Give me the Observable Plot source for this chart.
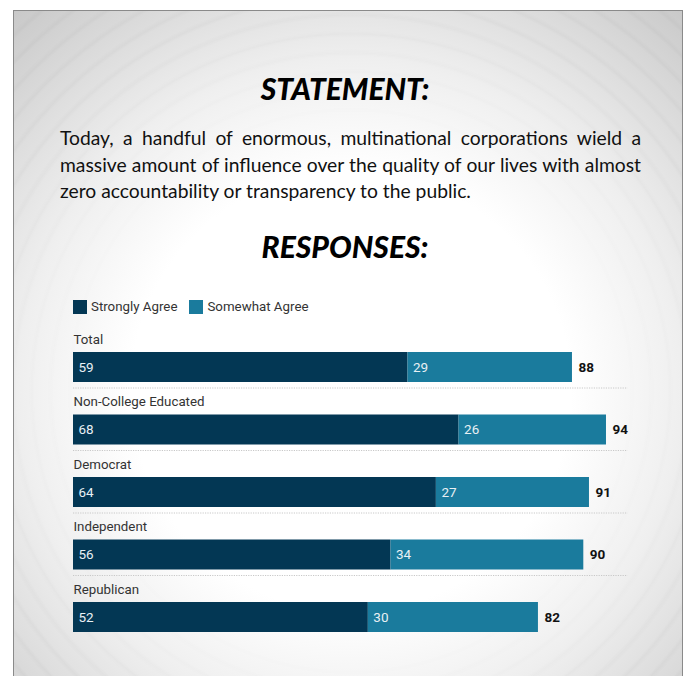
<!DOCTYPE html>
<html>
<head>
<meta charset="utf-8">
<script src="https://cdn.jsdelivr.net/npm/d3@7"></script>
<script src="https://cdn.jsdelivr.net/npm/@observablehq/plot@0.6"></script>
<style>
  html, body { margin: 0; padding: 0; background: #fff; }
  body { width: 690px; height: 676px; position: relative; overflow: hidden; }
  #frame {
    position: absolute; left: 13px; top: 10px; width: 670px; height: 680px;
    border: 1px solid #8a8a8a; box-sizing: border-box; overflow: hidden;
    background: radial-gradient(circle at 337px 380px, #ffffff 0px, #ffffff 220px, #efefef 330px, #dcdcdc 420px, #c6c6c6 520px);
  }
  #frame::before {
    content: ""; position: absolute; inset: 0;
    background: repeating-radial-gradient(circle at 337px 380px, rgba(0,0,0,0) 0px, rgba(0,0,0,0) 12px, rgba(0,0,0,0.02) 15px, rgba(0,0,0,0) 19px);
    -webkit-mask-image: radial-gradient(circle at 337px 380px, transparent 250px, black 400px);
    mask-image: radial-gradient(circle at 337px 380px, transparent 250px, black 400px);
  }
  .title {
    position: absolute; left: 0; width: 690px; text-align: center;
    font-family: Lato, sans-serif; font-weight: 900; font-style: italic;
    font-size: 30px; color: #000;
  }
  #statement {
    position: absolute; left: 60px; top: 125px; width: 581px;
    font-family: Lato, sans-serif; font-size: 19.3px; line-height: 26.5px; color: #111;
  }
  #statement div { text-align: justify; text-align-last: justify; white-space: nowrap; }
  #statement div.last { text-align-last: left; }
  #legend {
    position: absolute; left: 73px; top: 299px; display: flex; align-items: center;
    font-family: Roboto, sans-serif; font-size: 13.3px; color: #333;
  }
  #legend .sw { width: 14px; height: 14px; margin-right: 4px; }
  #legend .item { display: flex; align-items: center; margin-right: 12px; }
  #chart { position: absolute; left: 73px; top: 322px; }
</style>
</head>
<body>
<div id="frame"></div>
<div class="title" style="top:70px;">STATEMENT:</div>
<div id="statement">
  <div>Today, a handful of enormous, multinational corporations wield a</div>
  <div>massive amount of influence over the quality of our lives with almost</div>
  <div class="last">zero accountability or transparency to the public.</div>
</div>
<div class="title" style="top:228px;">RESPONSES:</div>
<div id="legend"></div>
<div id="chart"></div>
<script>
const categories = ["Total", "Non-College Educated", "Democrat", "Independent", "Republican"];
const seriesNames = ["Strongly Agree", "Somewhat Agree"];
const stronglyAgree = [59, 68, 64, 56, 52];
const somewhatAgree = [29, 26, 27, 34, 30];
const totals = [88, 94, 91, 90, 82];
const colors = ["#033754", "#1a7b9d"];

const data = [];
categories.forEach((c, i) => {
  data.push({cat: c, type: seriesNames[0], value: stronglyAgree[i]});
  data.push({cat: c, type: seriesNames[1], value: somewhatAgree[i]});
});
const totalData = categories.map((c, i) => ({cat: c, total: totals[i]}));

// legend
const legend = document.getElementById("legend");
seriesNames.forEach((s, i) => {
  const item = document.createElement("div");
  item.className = "item";
  item.innerHTML = `<div class="sw" style="background:${colors[i]}"></div><span>${s}</span>`;
  legend.appendChild(item);
});

const chart = Plot.plot({
  width: 567,
  height: 320,
  marginLeft: 0,
  marginRight: 0,
  marginTop: 30,
  marginBottom: 10,
  style: {background: "transparent", fontFamily: "Roboto, sans-serif", fontSize: "13px", overflow: "visible"},
  x: {domain: [0, 100], axis: null},
  y: {domain: categories, axis: null, paddingInner: 0.52, paddingOuter: 0, align: 0, round: false},
  color: {domain: seriesNames, range: colors},
  marks: [
    Plot.ruleY(categories.slice(0, -1), {y: d => d, x1: 0, x2: 97.8, dy: 20.5, stroke: "#c8c8c8", strokeDasharray: "1.2,1.2", strokeWidth: 1}),
    Plot.barX(data, {x: "value", y: "cat", fill: "type", z: "type"}),
    Plot.text(data, Plot.stackX1({x: "value", y: "cat", z: "type", text: "value", dx: 5, textAnchor: "start", fill: "#e8f0f4", fontSize: 13.5})),
    Plot.text(totalData, {x: "total", y: "cat", text: "total", dx: 6, textAnchor: "start", fontWeight: "bold", fill: "#111", fontSize: 13.5}),
    Plot.text(categories, {x: 0, y: d => d, text: d => d, dy: -28, textAnchor: "start", fill: "#333", fontSize: 13.3})
  ]
});
document.getElementById("chart").appendChild(chart);
</script>
</body>
</html>
